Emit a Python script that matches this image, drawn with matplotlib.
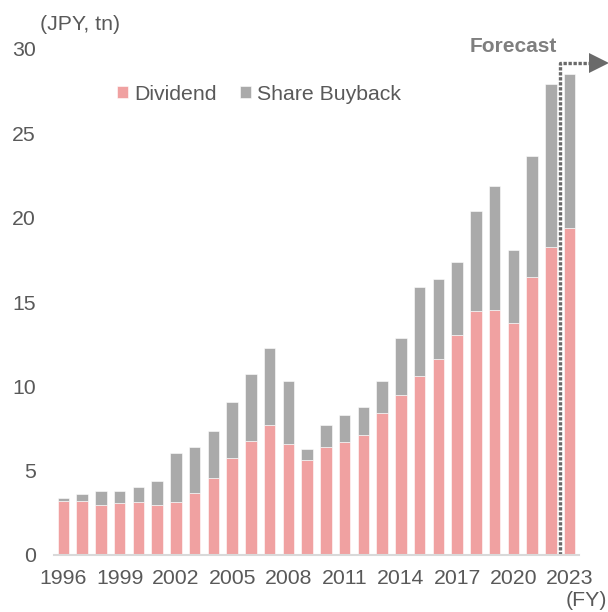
import matplotlib
matplotlib.use("Agg")
import matplotlib.pyplot as plt
import numpy as np

plt.rcParams['font.family'] = ['Liberation Sans', 'DejaVu Sans']

years = list(range(1996, 2024))
dividend = [3.20, 3.22, 2.98, 3.08, 3.14, 2.96, 3.14, 3.69, 4.56, 5.77, 6.76, 7.71, 6.60,
            5.61, 6.38, 6.72, 7.10, 8.40, 9.49, 10.61, 11.60, 13.04, 14.46, 14.52, 13.73,
            16.48, 18.26, 19.38]
total = [3.36, 3.62, 3.79, 3.77, 4.03, 4.37, 6.05, 6.40, 7.37, 9.05, 10.73, 12.27, 10.30,
         6.30, 7.69, 8.30, 8.77, 10.30, 12.86, 15.91, 16.38, 17.39, 20.41, 21.89, 18.06,
         23.65, 27.94, 28.50]
buyback = [t - d for t, d in zip(total, dividend)]
tick_years = [1996, 1999, 2002, 2005, 2008, 2011, 2014, 2017, 2020, 2023]

PINK = '#f0a1a1'
GRAY = '#aaaaaa'
TXT = '#595959'
FS = 15.3

fig = plt.figure(figsize=(6.08, 6.12), dpi=100)
ax = fig.add_axes([54/608, 1-555/612, (579-54)/608, (555-49)/612])

x = np.arange(len(years))
ax.bar(x, dividend, width=0.61, color=PINK, edgecolor='white', linewidth=0.4, label='Dividend')
ax.bar(x, buyback, bottom=dividend, width=0.61, color=GRAY, edgecolor='white', linewidth=0.4,
       label='Share Buyback')

ax.set_xlim(-0.5, len(years) - 0.5)
ax.set_ylim(0, 30)
ax.set_yticks([0, 5, 10, 15, 20, 25, 30])
ax.set_xticks([years.index(y) for y in tick_years])
ax.set_xticklabels([str(y) for y in tick_years])
ax.tick_params(axis='y', length=0, pad=13, labelsize=FS, labelcolor=TXT)
ax.tick_params(axis='x', length=0, pad=10, labelsize=FS, labelcolor=TXT)
for s in ['left', 'right', 'top']:
    ax.spines[s].set_visible(False)
ax.spines['bottom'].set_color('#d9d9d9')
ax.spines['bottom'].set_linewidth(1.5)

# Forecast divider
LC = '#6a6a6a'
xv = len(years) - 1.5
ytop = 29.15
ax.plot([xv, xv, len(years) + 0.15], [0, ytop, ytop], color=LC, linewidth=2.4,
        linestyle=(0, (1, 0.5)), clip_on=False, solid_capstyle='butt', dash_capstyle='butt')
ax.plot([len(years) + 0.55], [ytop], marker='>', markersize=14, color=LC,
        markeredgewidth=0, clip_on=False)
fig.text(513/608, 1-47/612, 'Forecast', ha='center', va='center', fontsize=FS - 0.3,
         fontweight='bold', color='#7f7f7f')

leg = fig.legend(loc='center left', bbox_to_anchor=(117/608, 1-94/612), ncol=2, frameon=False,
                 fontsize=FS, handlelength=0.5, handleheight=0.5, handletextpad=0.3,
                 columnspacing=1.1, borderpad=0, borderaxespad=0)
for t in leg.get_texts():
    t.set_color(TXT)

fig.text(40/608, 1-25/612, '(JPY, tn)', ha='left', va='center', fontsize=FS, color=TXT)
fig.text(566/608, 1-601/612, '(FY)', ha='left', va='center', fontsize=FS, color=TXT)

fig.savefig('out.png', dpi=100)
